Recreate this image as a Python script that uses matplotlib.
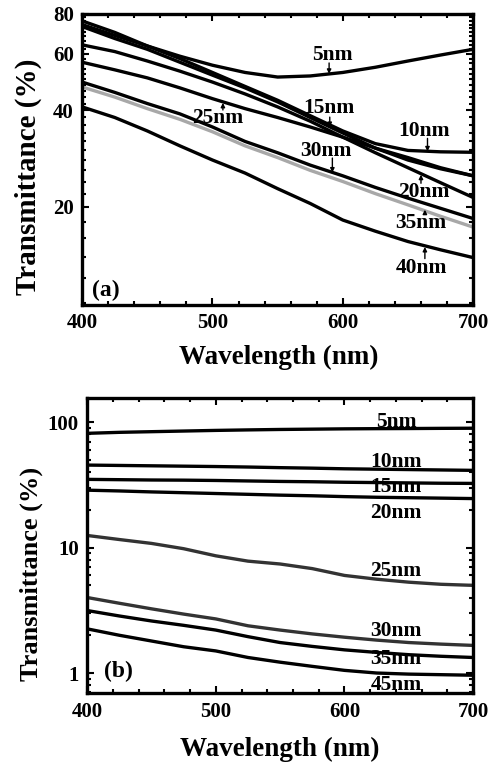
import numpy as np
import matplotlib
matplotlib.use("Agg")
import matplotlib.pyplot as plt
from matplotlib.ticker import FixedLocator, MultipleLocator, NullFormatter

plt.rcParams['font.family'] = ['Liberation Serif', 'DejaVu Serif']
plt.rcParams['font.weight'] = 'bold'

# wavelength grid (nm)
wl = [400, 425, 450, 475, 500, 525, 550, 575, 600, 625, 650, 675, 700]

# panel (a) transmittance (%)
a_5nm = [74, 68.5, 63.5, 59, 55.3, 52.5, 50.8, 51.2, 52.5, 54.5, 57, 59.5, 62]
a_10nm = [76, 70, 63.5, 58, 52.5, 47.5, 43, 38.5, 34.5, 31.5, 30, 29.7, 29.6]
a_15nm = [73, 67, 62, 56.5, 51.5, 47, 42.5, 38, 34, 30.5, 28, 26.3, 25]
a_20nm = [64, 61, 57, 53, 49, 45, 41, 37, 33, 29.5, 26.5, 23.8, 21.4]
a_25nm = [56.5, 53.5, 50.5, 47, 43.5, 40.5, 38, 35.5, 33, 30.5, 28.5, 26.5, 25]
a_30nm = [49, 45.5, 42, 39, 35.5, 32, 29.5, 27, 25, 23, 21.3, 19.8, 18.4]
a_35nm = [47.3, 44, 40.5, 37.5, 34.3, 31, 28.5, 26, 24, 22, 20.3, 18.7, 17.3]
a_40nm = [41, 38, 34.5, 31, 28, 25.5, 22.8, 20.5, 18.2, 16.8, 15.6, 14.7, 13.9]

# panel (b) transmittance (%)
b_5nm = [81.5, 83, 84, 85, 86, 86.8, 87.5, 88, 88.5, 88.8, 89, 89.3, 89.5]
b_10nm = [45.5, 45.2, 44.9, 44.6, 44.3, 43.9, 43.4, 43, 42.5, 42.2, 41.9, 41.6, 41.3]
b_15nm = [35, 34.8, 34.6, 34.5, 34.3, 34, 33.7, 33.5, 33.2, 33, 32.8, 32.6, 32.5]
b_20nm = [28.7, 28.3, 27.8, 27.4, 27, 26.6, 26.2, 25.9, 25.5, 25.2, 25, 24.8, 24.6]
b_25nm = [12.5, 11.6, 10.8, 9.8, 8.6, 7.8, 7.4, 6.8, 6.0, 5.6, 5.3, 5.1, 5.0]
b_30nm = [4.0, 3.6, 3.25, 2.95, 2.7, 2.38, 2.2, 2.05, 1.93, 1.83, 1.75, 1.7, 1.66]
b_35nm = [3.15, 2.85, 2.6, 2.4, 2.2, 1.95, 1.75, 1.63, 1.53, 1.46, 1.4, 1.36, 1.33]
b_45nm = [2.25, 2.0, 1.8, 1.62, 1.5, 1.33, 1.22, 1.13, 1.05, 1.0, 0.98, 0.97, 0.96]

fig = plt.figure(figsize=(4.98, 7.66), dpi=100)
ax1 = fig.add_axes([0.165, 0.602, 0.785, 0.380])
ax2 = fig.add_axes([0.175, 0.095, 0.775, 0.385])

lw = 2.4
for y in [a_5nm, a_10nm, a_15nm, a_20nm, a_25nm, a_30nm, a_40nm]:
    ax1.plot(wl, y, color='black', lw=lw)
ax1.plot(wl, a_35nm, color='#a8a8a8', lw=lw)

for y, c in [(b_5nm, 'black'), (b_10nm, 'black'), (b_15nm, 'black'), (b_20nm, 'black'),
             (b_25nm, '#333333'), (b_30nm, '#333333'), (b_35nm, 'black'), (b_45nm, 'black')]:
    ax2.plot(wl, y, color=c, lw=lw)

for ax in [ax1, ax2]:
    ax.set_yscale('log')
    ax.set_xlim(400, 700)
    ax.xaxis.set_major_locator(MultipleLocator(100))
    ax.xaxis.set_minor_locator(MultipleLocator(20))
    ax.tick_params(which='both', direction='in', top=True, right=True, width=1.5,
                   labelsize=15, pad=6)
    ax.tick_params(which='major', length=5)
    ax.tick_params(which='minor', length=3)
    for s in ax.spines.values():
        s.set_linewidth(2.4)
    ax.set_xlabel('Wavelength (nm)', fontsize=19.5, fontweight='bold')

ax1.set_ylabel('Transmittance (%)', fontsize=21, fontweight='bold')
ax2.set_ylabel('Transmittance (%)', fontsize=19, fontweight='bold')
ax1.yaxis.set_label_coords(-0.102, 0.44)
ax2.yaxis.set_label_coords(-0.114, 0.403)
ax1.xaxis.set_label_coords(0.504, -0.137)
ax2.xaxis.set_label_coords(0.499, -0.149)

# panel (a) axis
ax1.set_ylim(9.9, 80)
ax1.yaxis.set_major_locator(FixedLocator([20, 40, 60, 80]))
ax1.yaxis.set_minor_locator(FixedLocator([v for v in range(10, 80, 2) if v not in (20, 40, 60)]))
ax1.yaxis.set_major_formatter(matplotlib.ticker.FormatStrFormatter('%d'))
ax1.yaxis.set_minor_formatter(NullFormatter())

# panel (b) axis
ax2.set_ylim(0.69, 155)
ax2.yaxis.set_major_locator(FixedLocator([1, 10, 100]))
ax2.yaxis.set_major_formatter(matplotlib.ticker.FormatStrFormatter('%g'))
ax2.yaxis.set_minor_formatter(NullFormatter())

# panel (a) labels with small arrows
arrow = dict(arrowstyle='-|>', color='black', lw=1.0, mutation_scale=6,
             shrinkA=0, shrinkB=0)
a_labels = [
    ('5nm', 592, 59.6, 589.5, 56.2, 52.0),
    ('15nm', 589, 40.6, 590, 38.1, 35.5),
    ('10nm', 662, 34.4, 665, 32.7, 29.8),
    ('30nm', 587, 29.9, 592, 28.4, 25.6),
    ('25nm', 504, 37.8, 508, 40.1, 42.2),
    ('20nm', 662, 22.2, 660, 23.7, 25.2),
    ('35nm', 660, 17.8, 663, 19.1, 19.6),
    ('40nm', 660, 12.9, 663, 13.8, 15.0),
]
fs = 15.5
for txt, tx, ty, axx, y0, y1 in a_labels:
    ax1.text(tx, ty, txt, fontsize=fs, fontweight='bold', ha='center', va='center')
    ax1.annotate('', xy=(axx, y1), xytext=(axx, y0), arrowprops=arrow)
ax1.text(418, 11.0, '(a)', fontsize=17, fontweight='bold', ha='center', va='center')

# panel (b) labels
b_labels = [('5nm', 100), ('10nm', 48.0), ('15nm', 30.3), ('20nm', 18.8),
            ('25nm', 6.5), ('30nm', 2.16), ('35nm', 1.29), ('45nm', 0.80)]
for txt, ty in b_labels:
    ax2.text(640, ty, txt, fontsize=fs, fontweight='bold', ha='center', va='center')
ax2.text(424, 1.02, '(b)', fontsize=17, fontweight='bold', ha='center', va='center')

fig.savefig('out.png', dpi=100)
